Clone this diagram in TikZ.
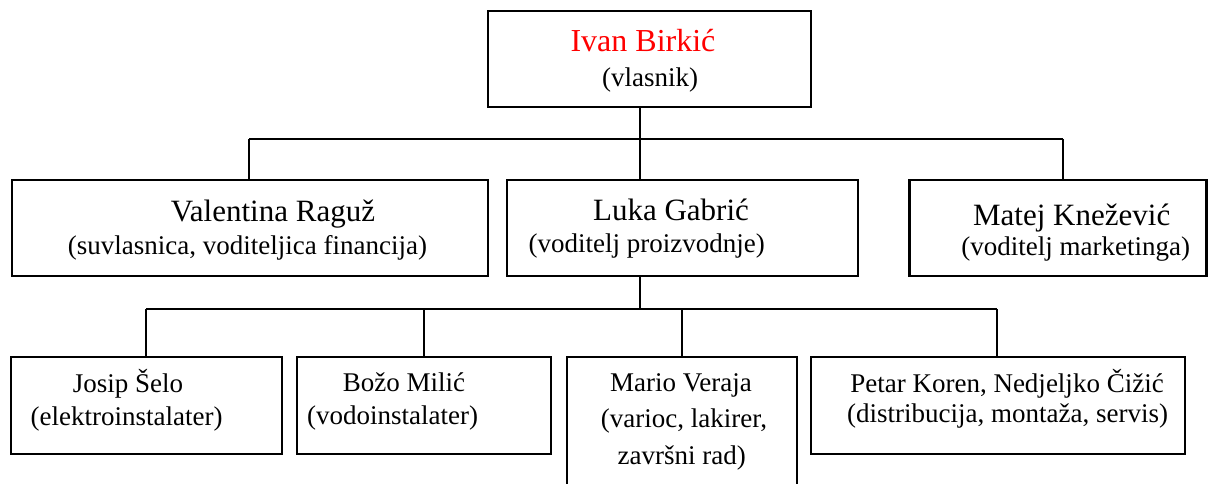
\documentclass[tikz,border=0pt]{standalone}
\usepackage{fontspec}
\setmainfont{Liberation Serif}
\begin{document}
\begin{tikzpicture}[x=0.75pt,y=-0.75pt,
  box/.style={draw, line width=1.8pt, inner sep=0pt, outer sep=0pt},
  conn/.style={line width=1.5pt},
  topname/.style={font=\fontsize{24}{28}\selectfont, anchor=base, inner sep=0pt, text=red},
  bigtxt/.style={font=\fontsize{23.25}{28}\selectfont, anchor=base, inner sep=0pt},
  smalltxt/.style={font=\fontsize{20.25}{24}\selectfont, anchor=base, inner sep=0pt}]
\useasboundingbox (0,0) rectangle (1208,484);
\clip (0,0) rectangle (1208,484);
% boxes
\node[box, minimum width=323*0.75pt, minimum height=96*0.75pt] (top) at (649.5,59) {};
\node[box, minimum width=476*0.75pt, minimum height=96*0.75pt] (val) at (250,228) {};
\node[box, minimum width=351*0.75pt, minimum height=96*0.75pt] (luka) at (682.5,228) {};
\node[box, minimum width=297*0.75pt, minimum height=96*0.75pt] (matej) at (1058,228) {};
\node[box, minimum width=271*0.75pt, minimum height=97*0.75pt] (josip) at (146.5,405.5) {};
\node[box, minimum width=254*0.75pt, minimum height=97*0.75pt] (bozo) at (424,405.5) {};
\node[box, minimum width=230*0.75pt, minimum height=150*0.75pt] (mario) at (682,432) {};
\node[box, minimum width=374*0.75pt, minimum height=97*0.75pt] (petar) at (998,405.5) {};
% texts
\node[topname] (t1) at (643,52) {Ivan Birkić};
\node[smalltxt] (t2) at (650,87) {(vlasnik)};
\node[bigtxt] (v1) at (273,222) {Valentina Raguž};
\node[smalltxt] (v2) at (247.5,255) {(suvlasnica, voditeljica financija)};
\node[bigtxt] (l1) at (671,221) {Luka Gabrić};
\node[smalltxt] (l2) at (646.7,253) {(voditelj proizvodnje)};
\node[bigtxt] (m1) at (1071.7,226) {Matej Knežević};
\node[smalltxt] (m2) at (1075.8,256) {(voditelj marketinga)};
\node[smalltxt] (j1) at (128,393) {Josip Šelo};
\node[smalltxt] (j2) at (126.7,426) {(elektroinstalater)};
\node[smalltxt] (b1) at (404,392) {Božo Milić};
\node[smalltxt] (b2) at (392.5,425) {(vodoinstalater)};
\node[smalltxt] (r1) at (681,392) {Mario Veraja};
\node[smalltxt] (r2) at (684,428) {(varioc, lakirer,};
\node[smalltxt] (r3) at (681.7,465) {završni rad)};
\node[smalltxt] (p1) at (1007,393) {Petar Koren, Nedjeljko Čižić};
\node[smalltxt] (p2) at (1007.5,423) {(distribucija, montaža, servis)};
% connectors
\coordinate (busA) at (640,139);
\coordinate (busAL) at (249,139);
\coordinate (busAR) at (1063,139);
\coordinate (busB) at (640,309);
\coordinate (busBL) at (146,309);
\coordinate (busBR) at (997,309);
\draw[conn] (top.south -| busA) -- (luka.north -| busA);
\draw[conn] (busAL) -- (busAR);
\draw[conn] (busAL) -- (val.north -| busAL);
\draw[conn] (busAR) -- (matej.north -| busAR);
\draw[conn] (luka.south -| busB) -- (busB);
\draw[conn] (busBL) -- (busBR);
\draw[conn] (busBL) -- (josip.north -| busBL);
\draw[conn] (bozo.north |- busB) -- (bozo.north);
\draw[conn] (mario.north |- busB) -- (mario.north);
\draw[conn] (busBR) -- (petar.north -| busBR);
\end{tikzpicture}
\end{document}
